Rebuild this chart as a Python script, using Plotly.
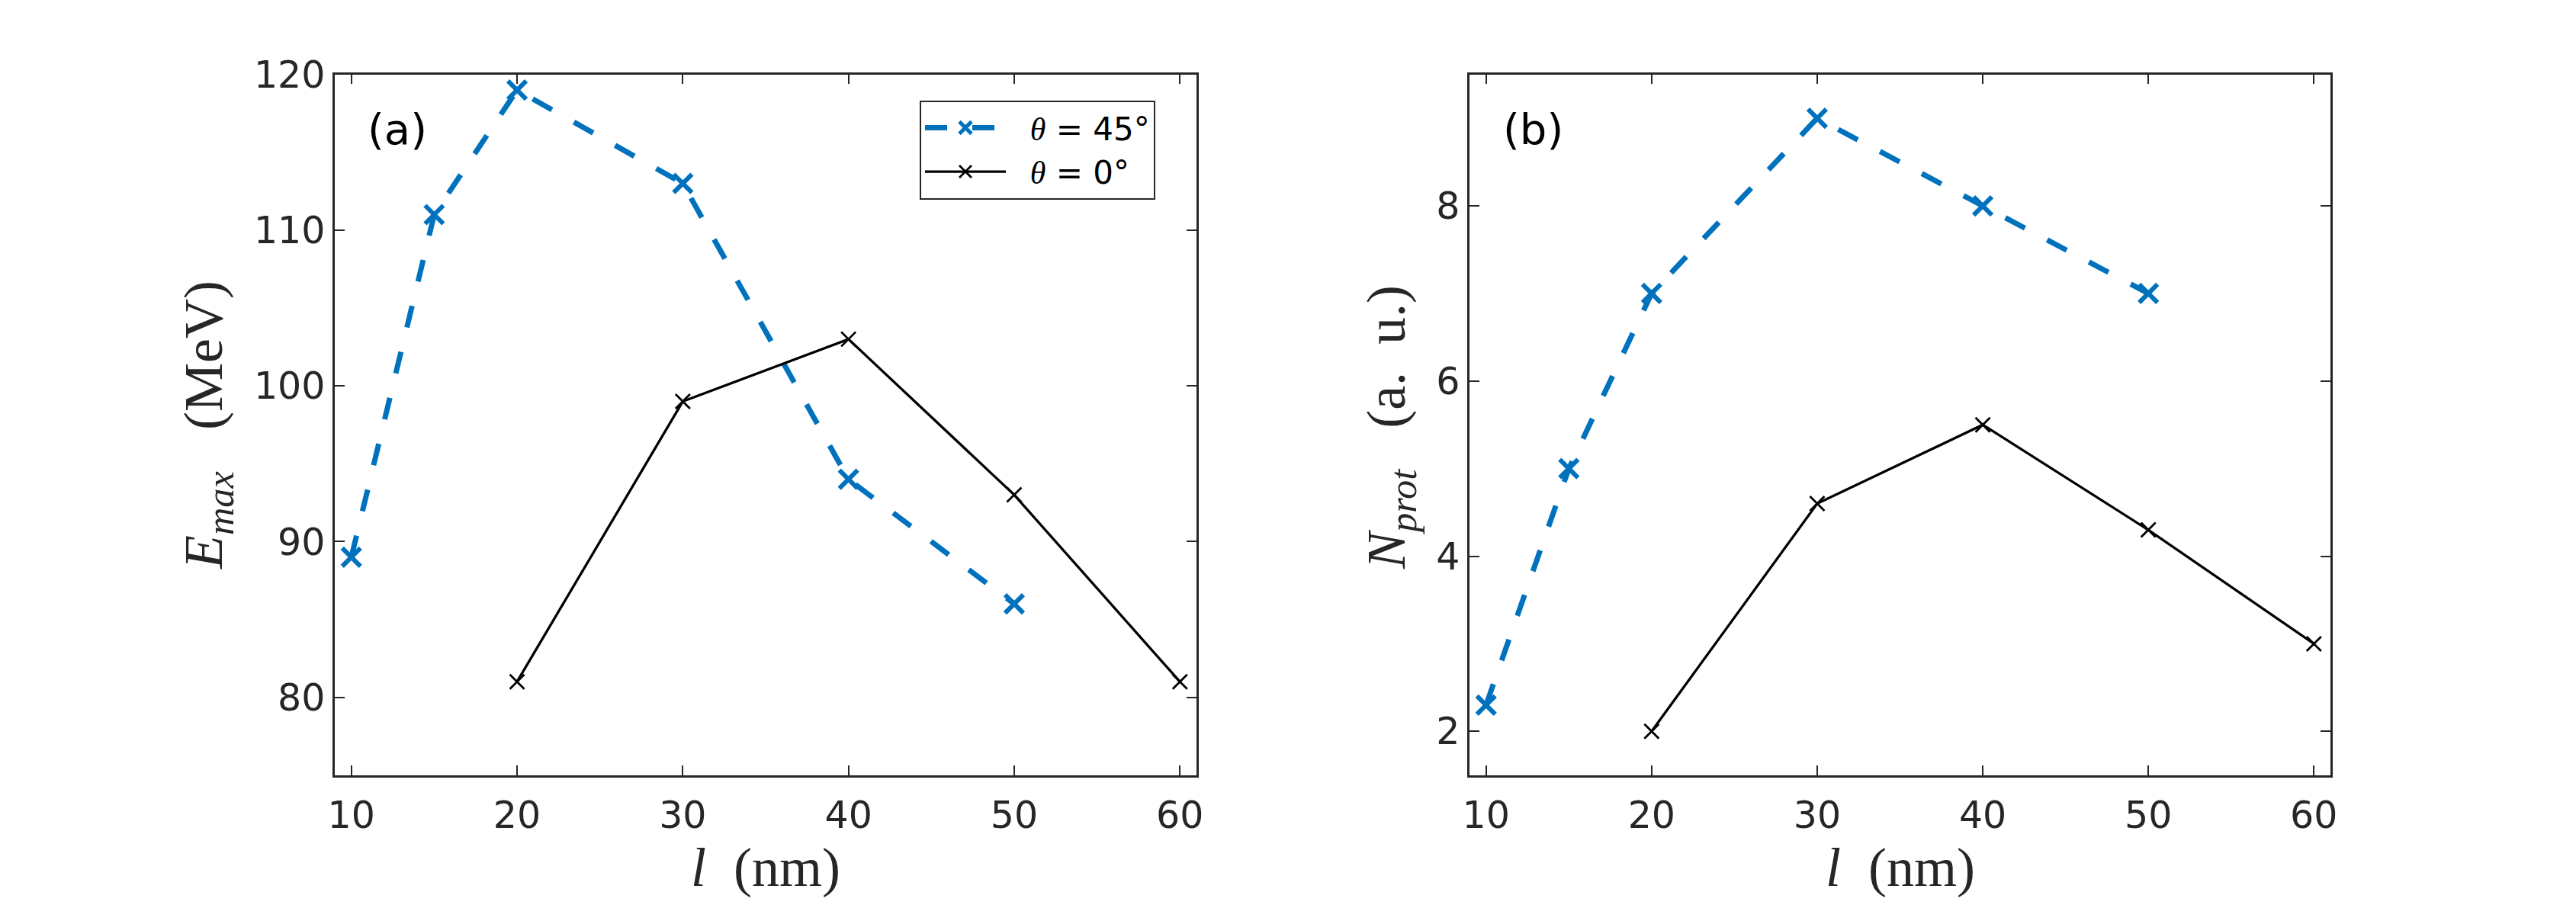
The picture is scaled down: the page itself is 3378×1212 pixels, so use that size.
import plotly.graph_objects as go

# ---- data ----
l45 = [10, 15, 20, 30, 40, 50]
E45 = [89, 111, 119, 113, 94, 86]
N45 = [2.3, 5, 7, 9, 8, 7]

l0 = [20, 30, 40, 50, 60]
E0 = [81, 99, 103, 93, 81]
N0 = [2, 4.6, 5.5, 4.3, 3]

xticks = [10, 20, 30, 40, 50, 60]
yticks_a = [80, 90, 100, 110, 120]
yticks_b = [2, 4, 6, 8]

BLUE = "#0072BD"
AX = "#262626"
W, H = 3378, 1212

blue_line = dict(color=BLUE, width=7, dash="29px,33px")
blue_mark = dict(symbol="x-thin", size=24, line=dict(color=BLUE, width=6))
blk_line = dict(color="black", width=3.3)
blk_mark = dict(symbol="x-thin", size=19, line=dict(color="black", width=2.8))

TH = '<span style="font-family:Liberation Serif"><i>θ</i></span>'

fig = go.Figure()
# panel a
fig.add_trace(go.Scatter(x=l45, y=E45, mode="lines+markers", xaxis="x", yaxis="y",
                         name="&nbsp;&nbsp;" + TH + " = 45°",
                         line=blue_line, marker=blue_mark, showlegend=True))
fig.add_trace(go.Scatter(x=l0, y=E0, mode="lines+markers", xaxis="x", yaxis="y",
                         name="&nbsp;&nbsp;" + TH + " = 0°",
                         line=blk_line, marker=blk_mark, showlegend=True))
# panel b
fig.add_trace(go.Scatter(x=l45, y=N45, mode="lines+markers", xaxis="x2", yaxis="y2",
                         line=blue_line, marker=blue_mark, showlegend=False))
fig.add_trace(go.Scatter(x=l0, y=N0, mode="lines+markers", xaxis="x2", yaxis="y2",
                         line=blk_line, marker=blk_mark, showlegend=False))

axcommon = dict(showline=True, linecolor=AX, linewidth=2.5, mirror="ticks",
                ticks="inside", ticklen=13, tickwidth=2, tickcolor=AX,
                showgrid=False, zeroline=False, automargin=False,
                tickfont=dict(family="DejaVu Sans", size=49, color=AX))

ydom = [1 - 1016.7 / H, 1 - 97.7 / H]
fig.update_layout(
    width=W, height=H, autosize=False,
    margin=dict(l=0, r=0, t=0, b=0, pad=0),
    paper_bgcolor="white", plot_bgcolor="white",
    xaxis=dict(domain=[439 / W, 1569 / W], range=[9, 61], tickvals=xticks, anchor="y",
               ticklabelstandoff=8, **axcommon),
    yaxis=dict(domain=ydom, range=[75, 120], tickvals=yticks_a, anchor="x", **axcommon),
    xaxis2=dict(domain=[1927 / W, 3056 / W], range=[9, 61], tickvals=xticks, anchor="y2",
                ticklabelstandoff=8, **axcommon),
    yaxis2=dict(domain=ydom, range=[1.5, 9.5], tickvals=yticks_b, anchor="x2", **axcommon),
    legend=dict(x=1206 / W, y=1 - 131.7 / H, xanchor="left", yanchor="top",
                bgcolor="white", bordercolor=AX, borderwidth=2,
                font=dict(family="DejaVu Sans", size=42, color="black"),
                itemwidth=106, tracegroupgap=0),
    showlegend=True,
)

serif = dict(family="Liberation Serif", size=72, color=AX)
ann = [
    dict(text="<i>l</i>&nbsp;&nbsp;(nm)", x=1004 / W, y=1 - 1138 / H),
    dict(text="<i>l</i>&nbsp;&nbsp;(nm)", x=2491.5 / W, y=1 - 1138 / H),
    dict(text="<i>E</i><sub><i>max</i></sub>&nbsp;&nbsp;&nbsp;(MeV)", x=272 / W, y=1 - 558 / H, textangle=-90),
    dict(text="<i>N</i><sub><i>prot</i></sub>&nbsp;&nbsp;&nbsp;(a.&nbsp;&nbsp;u.)", x=1823 / W, y=1 - 560 / H, textangle=-90),
]
for a in ann:
    fig.add_annotation(xref="paper", yref="paper", showarrow=False,
                       xanchor="center", yanchor="middle", font=serif, **a)

for txt, xc in [("(a)", 521), ("(b)", 2010)]:
    fig.add_annotation(text=txt, xref="paper", yref="paper", x=xc / W, y=1 - 169 / H,
                       showarrow=False, xanchor="center", yanchor="middle",
                       font=dict(family="DejaVu Sans", size=56, color="black"))

fig.write_html("out.html", config={"displayModeBar": False},
               post_script="document.body.style.margin='0';document.body.style.overflow='hidden';")
